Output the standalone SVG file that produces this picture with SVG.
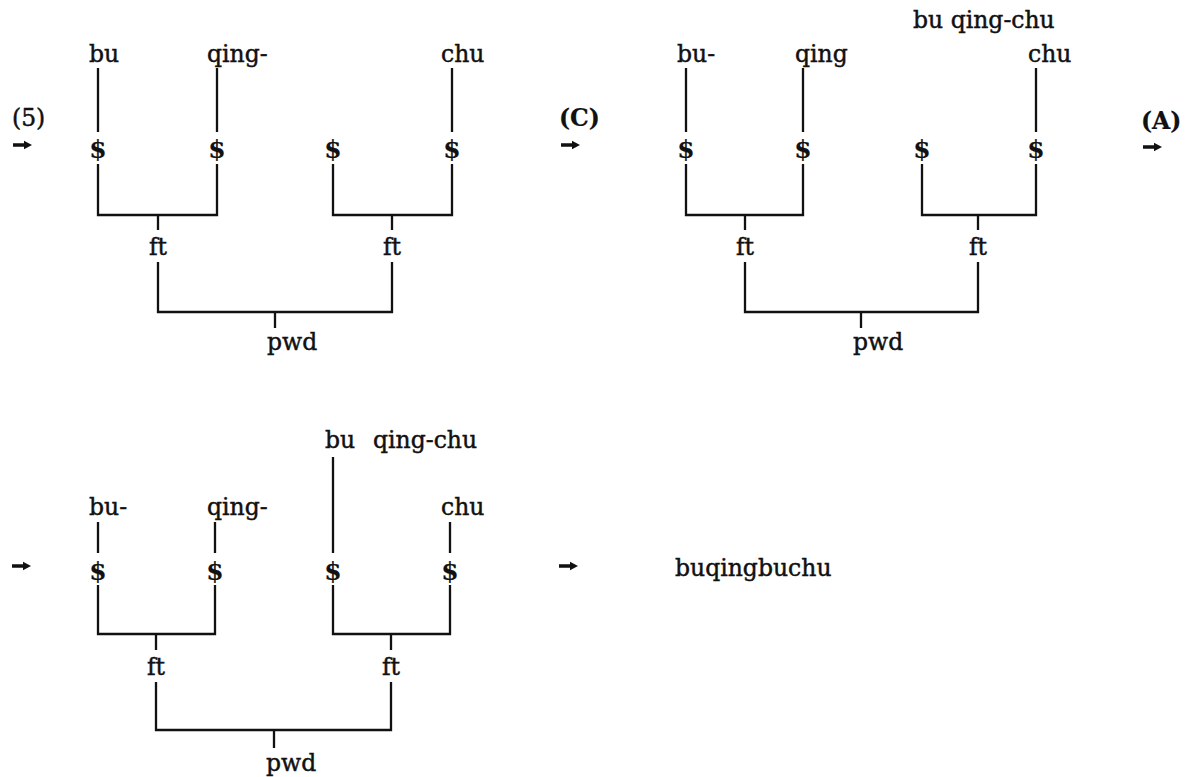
<svg xmlns="http://www.w3.org/2000/svg" width="1187" height="777" viewBox="0 0 1187 777">
<style>
text{font-family:"DejaVu Serif","Liberation Serif",serif;font-size:23.5px;fill:#111;stroke:#111;stroke-width:0.45}
.m{text-anchor:middle}
.b{font-weight:bold;stroke-width:0.2}
.d{font-size:25px;font-weight:bold;stroke-width:0.2}
.c path{fill:none;stroke:#111;stroke-width:2.3}
</style>
<defs>
<path id="arr" d="M0,-1.7 H11 V-4.3 L19,0 L11,4.3 V1.7 H0 Z" fill="#111"/>
</defs>
<rect width="1187" height="777" fill="#fff"/>
<g class="c" id="connectors">
<path d="M98,68 V132 M217,68 V132 M452,68 V132"/>
<path d="M98,164 V215 H217 V164 M333,164 V215 H452 V164"/>
<path d="M158,215 V230 M392,215 V230"/>
<path d="M158,262 V312 H392 V262 M275,312 V328"/>
<path d="M686,68 V132 M803,68 V132 M1036,68 V132"/>
<path d="M686,164 V215 H803 V164 M922,164 V215 H1036 V164"/>
<path d="M745,215 V230 M978,215 V230"/>
<path d="M745,262 V312 H978 V262 M861,312 V328"/>
<path d="M98,522 V553 M215,522 V553 M450,522 V553 M333,457 V553"/>
<path d="M98,585 V634 H215 V585 M333,585 V634 H450 V585"/>
<path d="M156,634 V650 M391,634 V650"/>
<path d="M156,682 V730 H391 V682 M274,730 V748"/>
<use href="#arr" x="13" y="145"/>
<use href="#arr" x="561" y="145"/>
<use href="#arr" x="1143" y="147"/>
<use href="#arr" x="12" y="566"/>
<use href="#arr" x="559" y="566"/>
</g>
<g id="label-5"><text x="12" y="126">(5)</text></g>
<g id="label-C"><text class="b" x="559" y="126">(C)</text></g>
<g id="label-A"><text class="b" x="1141" y="129">(A)</text></g>
<g id="d1">
<g id="d1-bu"><text x="89" y="62">bu</text></g>
<g id="d1-qing"><text x="207" y="62">qing-</text></g>
<g id="d1-chu"><text x="441" y="62">chu</text></g>
<g id="d1-s1"><text class="m d" x="98" y="158">$</text></g>
<g id="d1-s2"><text class="m d" x="217" y="158">$</text></g>
<g id="d1-s3"><text class="m d" x="333" y="158">$</text></g>
<g id="d1-s4"><text class="m d" x="452" y="158">$</text></g>
<g id="d1-ft1"><text class="m" x="158" y="255">ft</text></g>
<g id="d1-ft2"><text class="m" x="392" y="255">ft</text></g>
<g id="d1-pwd"><text x="267" y="350">pwd</text></g>
</g>
<g id="d2">
<g id="d2-top"><text x="913" y="28">bu qing-chu</text></g>
<g id="d2-bu"><text x="677" y="62">bu-</text></g>
<g id="d2-qing"><text x="795" y="62">qing</text></g>
<g id="d2-chu"><text x="1028" y="62">chu</text></g>
<g id="d2-s1"><text class="m d" x="686" y="158">$</text></g>
<g id="d2-s2"><text class="m d" x="803" y="158">$</text></g>
<g id="d2-s3"><text class="m d" x="922" y="158">$</text></g>
<g id="d2-s4"><text class="m d" x="1036" y="158">$</text></g>
<g id="d2-ft1"><text class="m" x="745" y="255">ft</text></g>
<g id="d2-ft2"><text class="m" x="978" y="255">ft</text></g>
<g id="d2-pwd"><text x="853" y="350">pwd</text></g>
</g>
<g id="d3">
<g id="d3-topbu"><text x="325" y="448">bu</text></g>
<g id="d3-topqing"><text x="373" y="448">qing-chu</text></g>
<g id="d3-bu"><text x="89" y="515">bu-</text></g>
<g id="d3-qing"><text x="207" y="515">qing-</text></g>
<g id="d3-chu"><text x="441" y="515">chu</text></g>
<g id="d3-s1"><text class="m d" x="98" y="580">$</text></g>
<g id="d3-s2"><text class="m d" x="215" y="580">$</text></g>
<g id="d3-s3"><text class="m d" x="333" y="580">$</text></g>
<g id="d3-s4"><text class="m d" x="450" y="580">$</text></g>
<g id="d3-ft1"><text class="m" x="156" y="675">ft</text></g>
<g id="d3-ft2"><text class="m" x="391" y="675">ft</text></g>
<g id="d3-pwd"><text x="266" y="771">pwd</text></g>
</g>
<g id="result"><text x="675" y="576">buqingbuchu</text></g>
</svg>
